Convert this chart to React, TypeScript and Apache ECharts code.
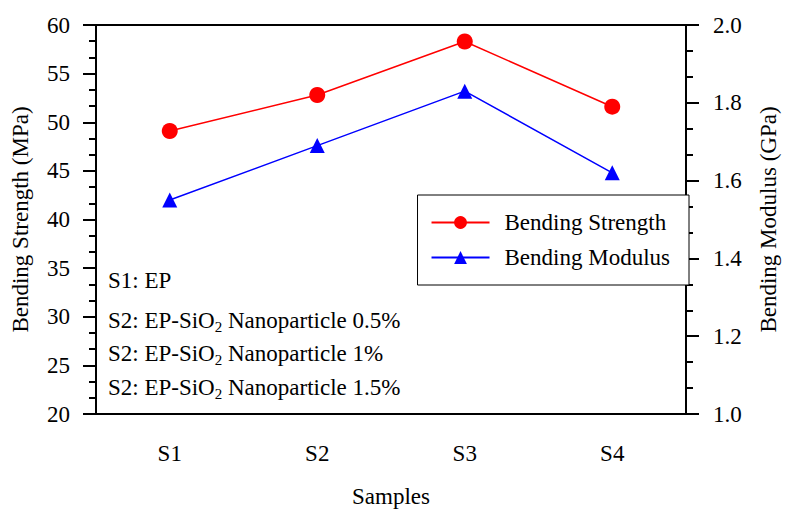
import React, { useEffect, useRef } from "react";
import * as echarts from "echarts";

const categories = ["S1", "S2", "S3", "S4"];
const bendingStrength = [49.1, 52.8, 58.3, 51.6];
const bendingModulus = [1.55, 1.69, 1.83, 1.62];
const noteLines = [
  ["S1: EP", "", ""],
  ["S2: EP-SiO", "2", " Nanoparticle 0.5%"],
  ["S2: EP-SiO", "2", " Nanoparticle 1%"],
  ["S2: EP-SiO", "2", " Nanoparticle 1.5%"],
];

const FONT = "Liberation Serif";
const FS = 23;

export default function App() {
  const ref = useRef<HTMLDivElement>(null);
  useEffect(() => {
    document.body.style.margin = "0";
    document.documentElement.style.overflow = "hidden";
    document.body.style.overflow = "hidden";
    if (!ref.current) return;
    const chart = echarts.init(ref.current, undefined, { renderer: "svg" });
    const noteY = [269, 306, 339, 373];
    const graphics = noteLines.map((l, i) => ({
      type: "text",
      left: 108,
      top: noteY[i],
      style: {
        text: l[1] ? `{a|${l[0]}}{s|${l[1]}}{a|${l[2]}}` : `{a|${l[0]}}`,
        rich: {
          a: { fontFamily: FONT, fontSize: FS, lineHeight: 28, fill: "#000" },
          s: { fontFamily: FONT, fontSize: 15, lineHeight: 15, padding: [13, 0, 0, 0], fill: "#000" },
        },
      },
    }));
    const axisLineStyle = { color: "#000", width: 2 };
    chart.setOption({
      animation: false,
      textStyle: { fontFamily: FONT, color: "#000" },
      grid: {
        left: 96,
        right: 94,
        top: 25,
        bottom: 91,
        show: true,
        borderColor: "#000",
        borderWidth: 2,
        backgroundColor: "transparent",
      },
      legend: {
        right: 99,
        top: 195,
        orient: "vertical",
        backgroundColor: "#fff",
        borderColor: "#000",
        borderWidth: 1,
        borderRadius: 0,
        padding: [16, 19, 16, 13],
        itemGap: 12,
        itemWidth: 58,
        itemHeight: 16,
        textStyle: { fontFamily: FONT, fontSize: FS, color: "#000", padding: [0, 0, 0, 10] },
        data: ["Bending Strength", "Bending Modulus"],
      },
      xAxis: {
        type: "category",
        data: categories,
        name: "Samples",
        nameLocation: "middle",
        nameGap: 71,
        nameTextStyle: { fontFamily: FONT, fontSize: FS, color: "#000" },
        axisLine: { lineStyle: axisLineStyle },
        axisTick: { alignWithLabel: true, length: 12, lineStyle: axisLineStyle },
        axisLabel: { fontFamily: FONT, fontSize: FS, color: "#000", margin: 28 },
      },
      yAxis: [
        {
          type: "value",
          min: 20,
          max: 60,
          interval: 5,
          name: "Bending Strength (MPa)",
          nameLocation: "middle",
          nameGap: 64,
          nameTextStyle: { fontFamily: FONT, fontSize: FS, color: "#000" },
          axisLine: { show: true, lineStyle: axisLineStyle },
          axisTick: { show: true, length: 13, lineStyle: axisLineStyle },
          minorTick: { show: true, splitNumber: 3, length: 7, lineStyle: axisLineStyle },
          splitLine: { show: false },
          axisLabel: { fontFamily: FONT, fontSize: FS, color: "#000", margin: 26 },
        },
        {
          type: "value",
          min: 1.0,
          max: 2.0,
          interval: 0.2,
          position: "right",
          name: "Bending Modulus (GPa)",
          nameLocation: "middle",
          nameGap: 71,
          nameTextStyle: { fontFamily: FONT, fontSize: FS, color: "#000" },
          axisLine: { show: true, lineStyle: axisLineStyle },
          axisTick: { show: true, length: 13, lineStyle: axisLineStyle },
          minorTick: { show: true, splitNumber: 3, length: 7, lineStyle: axisLineStyle },
          splitLine: { show: false },
          axisLabel: {
            fontFamily: FONT,
            fontSize: FS,
            color: "#000",
            margin: 27,
            formatter: (v: number) => v.toFixed(1),
          },
        },
      ],
      series: [
        {
          name: "Bending Strength",
          type: "line",
          yAxisIndex: 0,
          data: bendingStrength,
          symbol: "circle",
          symbolSize: 16,
          lineStyle: { color: "#ff0000", width: 1.5 },
          itemStyle: { color: "#ff0000" },
        },
        {
          name: "Bending Modulus",
          type: "line",
          yAxisIndex: 1,
          data: bendingModulus,
          symbol: "triangle",
          symbolSize: 15,
          lineStyle: { color: "#0000ff", width: 1.5 },
          itemStyle: { color: "#0000ff" },
        },
      ],
      graphic: graphics,
    });
    return () => chart.dispose();
  }, []);
  return <div ref={ref} style={{ width: 788, height: 513 }} />;
}
